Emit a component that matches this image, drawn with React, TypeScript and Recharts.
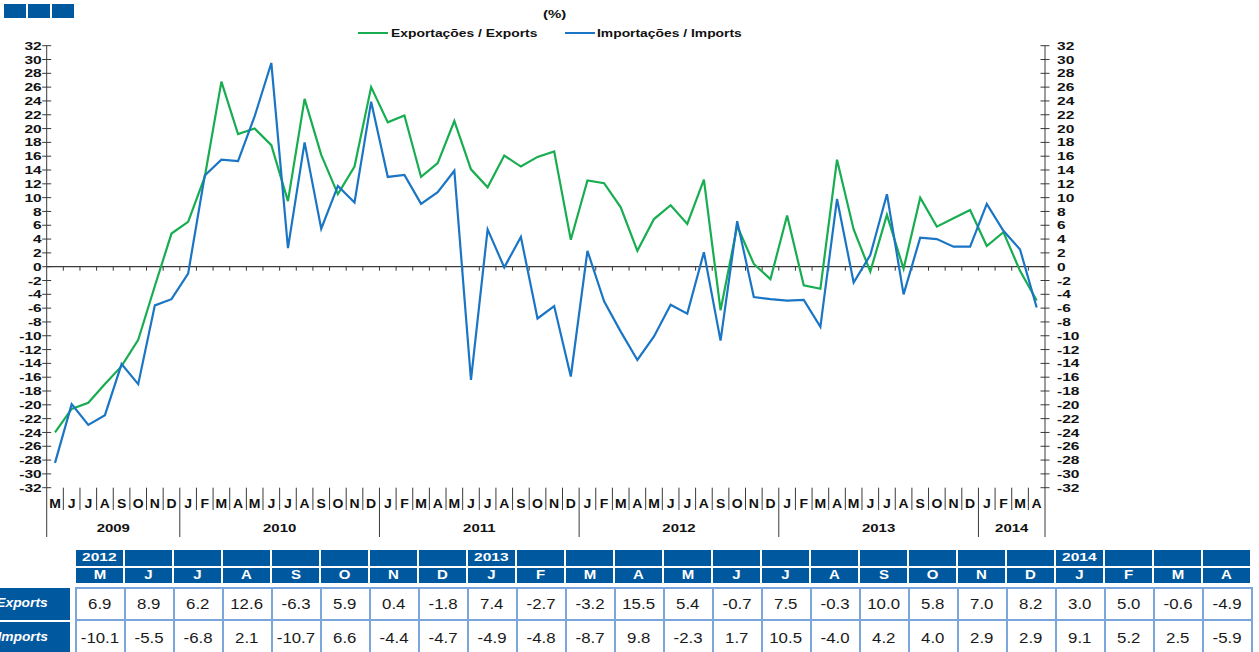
import React from "react";
import { LineChart, Line, XAxis, YAxis, ReferenceLine } from "recharts";

// monthly periods, May 2009 .. Apr 2014
const periods = [
  "2009-05", "2009-06", "2009-07", "2009-08", "2009-09", "2009-10", "2009-11", "2009-12",
  "2010-01", "2010-02", "2010-03", "2010-04", "2010-05", "2010-06", "2010-07", "2010-08", "2010-09", "2010-10", "2010-11", "2010-12",
  "2011-01", "2011-02", "2011-03", "2011-04", "2011-05", "2011-06", "2011-07", "2011-08", "2011-09", "2011-10", "2011-11", "2011-12",
  "2012-01", "2012-02", "2012-03", "2012-04", "2012-05", "2012-06", "2012-07", "2012-08", "2012-09", "2012-10", "2012-11", "2012-12",
  "2013-01", "2013-02", "2013-03", "2013-04", "2013-05", "2013-06", "2013-07", "2013-08", "2013-09", "2013-10", "2013-11", "2013-12",
  "2014-01", "2014-02", "2014-03", "2014-04",
];

// Exportações / Exports (%)
const exportsPct = [
  -24.0, -20.6, -19.7, -17.0, -14.4, -10.6, -2.8, 4.8,
  6.5, 13.0, 26.8, 19.2, 20.0, 17.6, 9.5, 24.3, 16.2, 10.5, 14.5, 26.0,
  20.9, 21.9, 13.0, 15.0, 21.1, 14.1, 11.5, 16.1, 14.5, 15.9, 16.7, 3.9,
  12.5, 12.1, 8.6, 2.3, 6.9, 8.9, 6.2, 12.6, -6.3, 5.9, 0.4, -1.8,
  7.4, -2.7, -3.2, 15.5, 5.4, -0.7, 7.5, -0.3, 10.0, 5.8, 7.0, 8.2,
  3.0, 5.0, -0.6, -4.9,
];

// Importações / Imports (%)
const importsPct = [
  -28.4, -19.9, -22.9, -21.5, -14.1, -17.0, -5.6, -4.7,
  -1.0, 13.2, 15.5, 15.3, 21.8, 29.5, 2.7, 18.0, 5.5, 11.7, 9.3, 23.9,
  13.0, 13.3, 9.1, 10.8, 13.9, -16.4, 5.4, -0.1, 4.3, -7.5, -5.7, -15.9,
  2.3, -5.0, -9.4, -13.5, -10.1, -5.5, -6.8, 2.1, -10.7, 6.6, -4.4, -4.7,
  -4.9, -4.8, -8.7, 9.8, -2.3, 1.7, 10.5, -4.0, 4.2, 4.0, 2.9, 2.9,
  9.1, 5.2, 2.5, -5.9,
];

const monthLetters = ["J", "F", "M", "A", "M", "J", "J", "A", "S", "O", "N", "D"];

const yTicks = [
  32, 30, 28, 26, 24, 22, 20, 18, 16, 14, 12, 10, 8, 6, 4, 2, 0,
  -2, -4, -6, -8, -10, -12, -14, -16, -18, -20, -22, -24, -26, -28, -30, -32,
];

const TABLE_MONTHS = 24;

const rows = periods.map((period, i) => ({
  period,
  exports: exportsPct[i],
  imports: importsPct[i],
}));

// layout
const W = 1259;
const CHART_H = 540;
const AXIS_L = 46.7;
const AXIS_R_W = W - 1045;
const TOP = 45.7;
const PLOT_H = 442;
const X_AXIS_H = CHART_H - TOP - PLOT_H;
const BAND = (W - AXIS_L - AXIS_R_W) / periods.length;

const FONT = "'Liberation Sans', Arial, Helvetica, sans-serif";
const GREEN = "#17ad50";
const BLUE = "#1a75c4";
const AXIS = "#3a3a3a";
const NAVY = "#00589f";
const CELL_LINE = "#7ba6dc";

function SvgWide({ x, y, sx, size, anchor, children }: any) {
  return (
    <text
      transform={`translate(${x},${y}) scale(${sx},1)`}
      x={0}
      y={0}
      textAnchor={anchor}
      fontSize={size}
      fontWeight="bold"
      fill="#111"
      fontFamily={FONT}
    >
      {children}
    </text>
  );
}

function LeftTick({ x, y, payload }: any) {
  const ax = x + 5;
  return (
    <g>
      <line x1={ax - 4.5} x2={ax + 4.5} y1={y} y2={y} stroke={AXIS} />
      <SvgWide x={x} y={y + 4.1} sx={1.35} size={11.5} anchor="end">
        {payload.value}
      </SvgWide>
    </g>
  );
}

function RightTick({ x, y, payload }: any) {
  const ax = x - 12;
  return (
    <g>
      <line x1={ax - 4.5} x2={ax + 4.5} y1={y} y2={y} stroke={AXIS} />
      <SvgWide x={x} y={y + 4.1} sx={1.35} size={11.5} anchor="start">
        {payload.value}
      </SvgWide>
    </g>
  );
}

// month letters, separators and year labels under the plot
function MonthTick({ x, y, payload }: any) {
  const p: string = payload.value;
  const i = periods.indexOf(p);
  const yr = p.slice(0, 4);
  const m = Number(p.slice(5));
  const left = x - BAND / 2;
  const starts = i === 0 || m === 1;
  const count = periods.filter((q) => q.slice(0, 4) === yr).length;
  return (
    <g>
      <line x1={left} x2={left} y1={y} y2={y + (starts ? 49.3 : 22.3)} stroke={AXIS} />
      {i === periods.length - 1 && (
        <line x1={left + BAND} x2={left + BAND} y1={y} y2={y + 49.3} stroke={AXIS} />
      )}
      <SvgWide x={x} y={y + 19.8} sx={1.12} size={12.5} anchor="middle">
        {monthLetters[m - 1]}
      </SvgWide>
      {starts && (
        <SvgWide x={left + (count * BAND) / 2} y={y + 44.5} sx={1.3} size={11.5} anchor="middle">
          {yr}
        </SvgWide>
      )}
    </g>
  );
}

// zero line with small ticks at month boundaries
function ZeroAxis(props: any) {
  const { x1, x2, y1 } = props;
  const step = (x2 - x1) / periods.length;
  return (
    <g>
      <line x1={x1} x2={x2} y1={y1} y2={y1} stroke={AXIS} strokeWidth={1.2} />
      {periods.slice(1).map((_, k) => (
        <line
          key={k}
          x1={x1 + step * (k + 1)}
          x2={x1 + step * (k + 1)}
          y1={y1}
          y2={y1 + 4}
          stroke={AXIS}
        />
      ))}
    </g>
  );
}

function Label({ left, cy, size, sx, children, color = "#111", italic = false, origin = "left center" }: any) {
  return (
    <span
      style={{
        position: "absolute",
        left,
        top: cy - 0.59 * size,
        fontSize: size,
        lineHeight: `${size * 1.2}px`,
        fontWeight: 700,
        fontStyle: italic ? "italic" : "normal",
        color,
        whiteSpace: "nowrap",
        transform: `scaleX(${sx})`,
        transformOrigin: origin,
      }}
    >
      {children}
    </span>
  );
}

function DataTable() {
  const start = periods.length - TABLE_MONTHS;
  const cols = periods.slice(start);
  const series = [
    { name: "Exports", values: exportsPct.slice(start) },
    { name: "Imports", values: importsPct.slice(start) },
  ];
  const rowTop = [587.2, 619.2];
  const rowH = [32, 36];
  return (
    <>
      {cols.map((p, i) => {
        const m = Number(p.slice(5));
        const showYear = i === 0 || m === 1;
        return (
          <React.Fragment key={p}>
            <div
              style={{ position: "absolute", left: 76 + 49 * i, top: 550, width: 47.3, height: 16, background: NAVY }}
            >
              {showYear && (
                <Label left={5.7} cy={8.2} size={11.5} sx={1.35} color="#fff">
                  {p.slice(0, 4)}
                </Label>
              )}
            </div>
            <div
              style={{
                position: "absolute",
                left: 76 + 49 * i,
                top: 567.7,
                width: 47.3,
                height: 15.3,
                background: NAVY,
                display: "flex",
                alignItems: "center",
                justifyContent: "center",
              }}
            >
              <span
                style={{
                  color: "#fff",
                  fontWeight: 700,
                  fontSize: 12,
                  lineHeight: "14px",
                  display: "inline-block",
                  transform: "scaleX(1.25)",
                }}
              >
                {monthLetters[m - 1]}
              </span>
            </div>
          </React.Fragment>
        );
      })}
      {series.map((s, r) => (
        <React.Fragment key={s.name}>
          <div
            style={{
              position: "absolute",
              left: 0,
              top: r === 0 ? 587.7 : 621.7,
              width: 70,
              height: r === 0 ? 32.3 : 32,
              background: NAVY,
            }}
          >
            <span
              style={{
                position: "absolute",
                right: 22,
                top: r === 0 ? 16.3 - 8.4 : 16.6 - 8.4,
                fontSize: 12,
                lineHeight: "14px",
                fontWeight: 700,
                fontStyle: "italic",
                color: "#fff",
                whiteSpace: "nowrap",
                transform: "scaleX(1.15)",
                transformOrigin: "right center",
              }}
            >
              {s.name}
            </span>
          </div>
          {s.values.map((v, i) => (
            <div
              key={i}
              style={{
                position: "absolute",
                left: 74.5 + 49 * i,
                top: rowTop[r],
                width: i === TABLE_MONTHS - 1 ? 51 : 49,
                height: rowH[r],
                boxSizing: "border-box",
                borderLeft: `2px solid ${CELL_LINE}`,
                borderTop: `2px solid ${CELL_LINE}`,
                borderRight: i === TABLE_MONTHS - 1 ? `2px solid ${CELL_LINE}` : "none",
                background: "#fff",
                display: "flex",
                alignItems: r === 0 ? "center" : "flex-start",
                paddingTop: r === 0 ? 0 : 8.5,
                justifyContent: "center",
              }}
            >
              <span
                style={{
                  fontSize: 14,
                  lineHeight: "16px",
                  color: "#1a1a1a",
                  display: "inline-block",
                  transform: "scaleX(1.2)",
                }}
              >
                {v.toFixed(1)}
              </span>
            </div>
          ))}
        </React.Fragment>
      ))}
    </>
  );
}

export default function App() {
  return (
    <div
      style={{
        position: "absolute",
        left: 0,
        top: 0,
        width: W,
        height: 652,
        overflow: "hidden",
        background: "#fff",
        fontFamily: FONT,
      }}
    >
      {[4, 28, 52].map((l) => (
        <div key={l} style={{ position: "absolute", left: l, top: 3.5, width: 22, height: 14, background: NAVY }} />
      ))}

      <Label left={543} cy={15} size={11.5} sx={1.3}>
        (%)
      </Label>
      <div style={{ position: "absolute", left: 358, top: 32, width: 30, height: 2, background: GREEN }} />
      <Label left={391} cy={33.7} size={11} sx={1.26}>
        Exportações / Exports
      </Label>
      <div style={{ position: "absolute", left: 565, top: 32, width: 30, height: 2, background: BLUE }} />
      <Label left={597} cy={33.7} size={11} sx={1.26}>
        Importações / Imports
      </Label>

      <div style={{ position: "absolute", left: 0, top: 0 }}>
        <LineChart width={W} height={CHART_H} data={rows} margin={{ top: TOP, right: 0, bottom: 0, left: 0 }}>
          <XAxis
            dataKey="period"
            scale="band"
            interval={0}
            height={X_AXIS_H}
            axisLine={false}
            tickLine={false}
            tickSize={0}
            tickMargin={0}
            tick={<MonthTick />}
          />
          <YAxis
            yAxisId="left"
            orientation="left"
            width={AXIS_L}
            domain={[-32, 32]}
            ticks={yTicks}
            interval={0}
            allowDataOverflow
            tickLine={false}
            tickSize={0}
            tickMargin={5}
            axisLine={{ stroke: AXIS }}
            tick={<LeftTick />}
          />
          <YAxis
            yAxisId="right"
            orientation="right"
            width={AXIS_R_W}
            domain={[-32, 32]}
            ticks={yTicks}
            interval={0}
            allowDataOverflow
            tickLine={false}
            tickSize={0}
            tickMargin={12}
            axisLine={{ stroke: AXIS }}
            tick={<RightTick />}
          />
          <ReferenceLine y={0} yAxisId="left" shape={<ZeroAxis />} />
          <Line
            yAxisId="left"
            dataKey="exports"
            name="Exportações / Exports"
            type="linear"
            stroke={GREEN}
            strokeWidth={2.2}
            dot={false}
            isAnimationActive={false}
          />
          <Line
            yAxisId="left"
            dataKey="imports"
            name="Importações / Imports"
            type="linear"
            stroke={BLUE}
            strokeWidth={2.2}
            dot={false}
            isAnimationActive={false}
          />
        </LineChart>
      </div>

      <DataTable />
    </div>
  );
}
